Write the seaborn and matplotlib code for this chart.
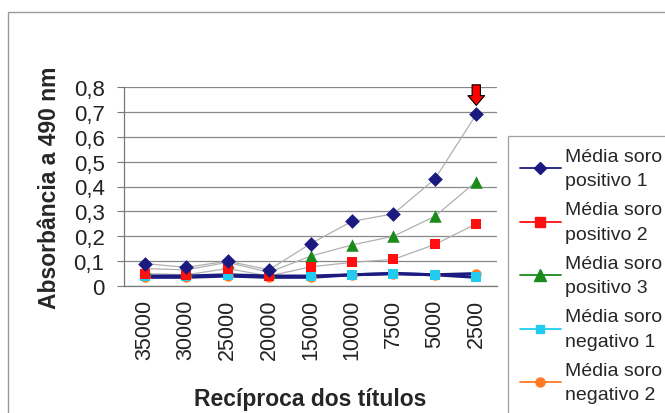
import numpy as np
import pandas as pd
import matplotlib
matplotlib.use("Agg")
import matplotlib.pyplot as plt
import seaborn as sns
from matplotlib.lines import Line2D
from matplotlib.patches import Rectangle

# Data
titulos = ["35000", "30000", "25000", "20000", "15000", "10000", "7500", "5000", "2500"]
positivo_1 = [0.09, 0.075, 0.10, 0.065, 0.17, 0.26, 0.29, 0.43, 0.69]
positivo_2 = [0.05, 0.045, 0.07, 0.04, 0.077, 0.095, 0.107, 0.167, 0.25]
positivo_3 = [0.07, 0.065, 0.095, 0.055, 0.12, 0.165, 0.20, 0.28, 0.42]
negativo_1 = [0.04, 0.04, 0.045, 0.04, 0.04, 0.045, 0.05, 0.045, 0.035]
negativo_2 = [0.035, 0.035, 0.04, 0.035, 0.035, 0.045, 0.05, 0.045, 0.05]

series_names = ["Média soro\npositivo 1", "Média soro\npositivo 2", "Média soro\npositivo 3",
                "Média soro\nnegativo 1", "Média soro\nnegativo 2"]
series_vals = [positivo_1, positivo_2, positivo_3, negativo_1, negativo_2]
colors = ["#1a1a80", "#ff1010", "#1a8a1a", "#22ccee", "#ff7a22"]
markers = ["D", "s", "^", "s", "o"]
msizes = [7.5, 7.5, 9, 6.5, 7.5]

sns.set_style("white")
plt.rcParams['font.family'] = ['Liberation Sans', 'DejaVu Sans']

fig = plt.figure(figsize=(6.65, 4.14), dpi=100)
ax = fig.add_axes([124 / 665, 1 - 287 / 414, (497 - 124) / 665, (287 - 88) / 414])

x = np.arange(len(titulos))
df = pd.DataFrame({"x": np.tile(x, 5),
                   "valor": np.concatenate(series_vals),
                   "serie": np.repeat(series_names, len(titulos))})

# baseline lines (negative series) drawn thick navy, positive series thin gray
for i, name in enumerate(series_names):
    sub = df[df["serie"] == name]
    if i >= 3:
        sns.lineplot(data=sub, x="x", y="valor", ax=ax, color="#1a1a80", linewidth=2.2,
                     zorder=2, legend=False)
    else:
        sns.lineplot(data=sub, x="x", y="valor", ax=ax, color="#b0b0b0", linewidth=0.9,
                     zorder=2, legend=False)
for i, name in enumerate(series_names):
    sub = df[df["serie"] == name]
    ax.scatter(sub["x"], sub["valor"], marker=markers[i], s=msizes[i] ** 2,
               color=colors[i], zorder=3 + (4 - i), linewidths=0)

ax.set_xlim(-0.5, len(titulos) - 0.5)
ax.set_ylim(0, 0.8)
ax.set_yticks(np.arange(0, 0.81, 0.1))
ax.set_yticklabels(["0"] + [f"0,{k}" for k in range(1, 9)], fontsize=16, color="#222222")
ax.set_xticks(x)
ax.set_xticklabels(titulos, rotation=90, fontsize=15.5, color="#222222")
ax.set_xticks(np.arange(-0.5, len(titulos)), minor=True)
ax.tick_params(axis="x", which="major", length=0, pad=9)
ax.tick_params(axis="x", which="minor", length=5, color="#777777", direction="out")
ax.tick_params(axis="y", length=5, color="#777777", direction="out", left=True, pad=9)
ax.grid(axis="y", color="#888888", linewidth=0.9)
ax.set_axisbelow(True)
for s in ["top", "right"]:
    ax.spines[s].set_visible(False)
for s in ["left", "bottom"]:
    ax.spines[s].set_color("#777777")
    ax.spines[s].set_linewidth(0.9)

ax.set_ylabel("Absorbância a 490 nm", fontsize=16.5, fontweight="bold", labelpad=9)
ax.set_xlabel("Recíproca dos títulos", fontsize=16.5, fontweight="bold", labelpad=20)

# red arrow over the highest point
ax.annotate("", xy=(x[-1], positivo_1[-1] + 0.025), xytext=(x[-1], positivo_1[-1] + 0.13),
            arrowprops=dict(arrowstyle="simple,head_width=1.2,head_length=0.7,tail_width=0.6",
                            facecolor="#ff0000", edgecolor="black", linewidth=0.8),
            annotation_clip=False)

# outer chart border
fig.patches.append(Rectangle((8 / 665, -0.1), 1.2, 1 - 13 / 414 + 0.1,
                             transform=fig.transFigure, fill=False,
                             edgecolor="#999999", linewidth=1))

handles = [Line2D([0], [0], color=colors[i], marker=markers[i], markersize=msizes[i] - 1,
                  linewidth=1.3) for i in range(5)]
leg = fig.legend(handles, series_names, loc="upper left",
                 bbox_to_anchor=(508 / 665, 1 - 137 / 414), fontsize=14,
                 frameon=True, fancybox=False, edgecolor="#888888",
                 handlelength=2.1, handletextpad=0.25, labelspacing=0.6,
                 borderpad=0.6, borderaxespad=0)
for t in leg.get_texts():
    t.set_linespacing(1.6)
leg.get_frame().set_linewidth(0.9)

fig.savefig("out.png", dpi=100)
